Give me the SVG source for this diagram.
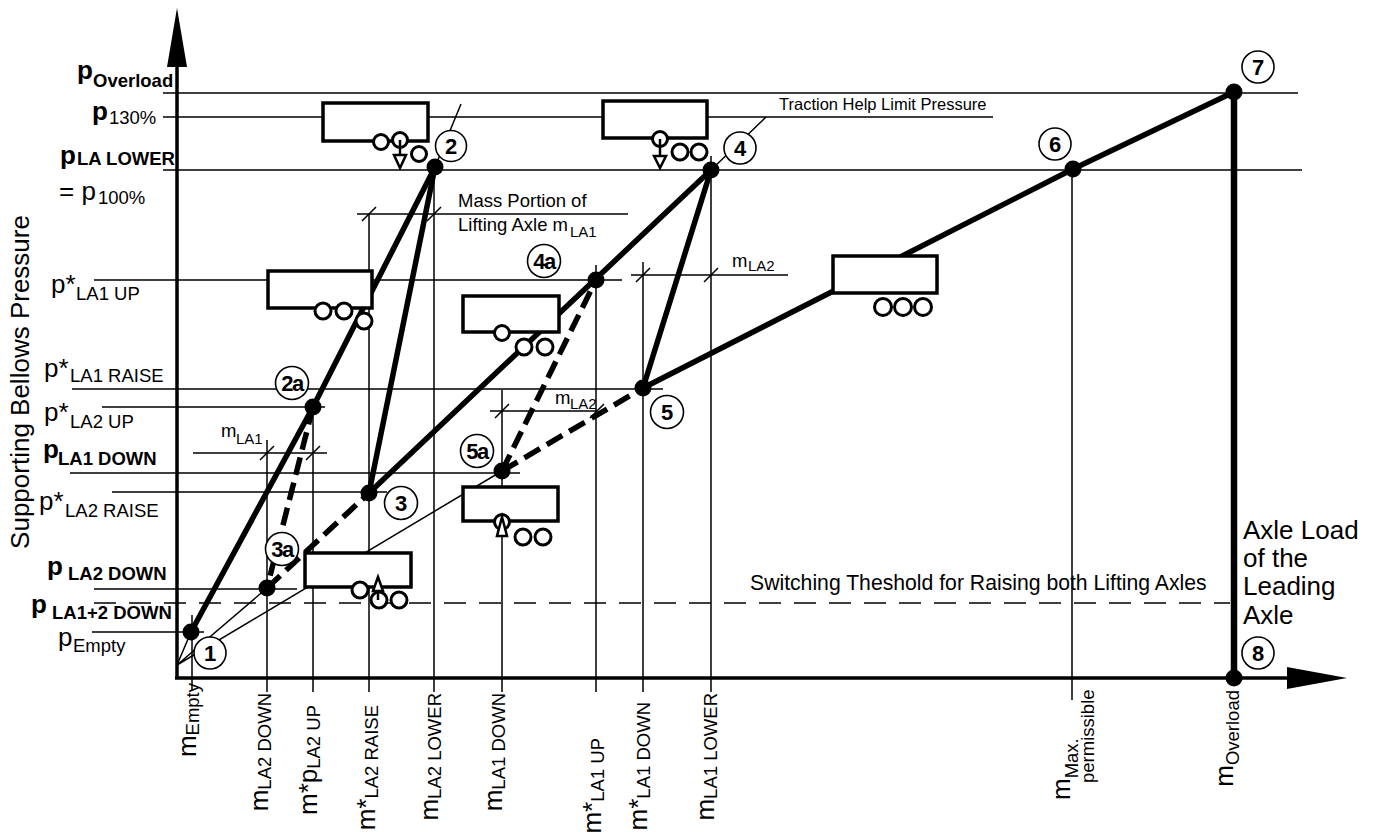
<svg xmlns="http://www.w3.org/2000/svg" width="1373" height="832" viewBox="0 0 1373 832">
<defs>
<style>
text{font-family:"Liberation Sans",Arial,Helvetica,sans-serif;fill:#000}
.t{stroke:#000;stroke-width:1.5;fill:none}
.th{stroke:#000;stroke-width:1.5;fill:none;stroke-dasharray:22 13}
.k{stroke:#000;stroke-width:5.5;fill:none;stroke-linecap:round;stroke-linejoin:round}
.d{stroke-dasharray:18 8;stroke-linecap:butt}
.ax{stroke:#000;stroke-width:3.5;fill:none}
.box{fill:#fff;stroke:#000;stroke-width:3.5}
.wh{fill:#fff;stroke:#000;stroke-width:3}
.ar{fill:#fff;stroke:#000;stroke-width:2.5;stroke-linejoin:miter}
.dot{fill:#000}
.nc{fill:#fff;stroke:#000;stroke-width:1.6}
.nt{font-weight:bold;font-size:22px;text-anchor:middle}
.na{font-weight:bold;font-size:22px;text-anchor:middle;letter-spacing:-1.5px}
.big{font-size:26px}
.sub{font-size:18.5px}
.b{font-weight:bold}
.m{font-size:18.5px}
.s{font-size:15px}
</style>
</defs>
<rect width="1373" height="832" fill="#fff"/>

<g id="connectors">
  <!-- reference grid lines -->
  <path class="t" d="M163 93H1298 M163 117H993 M163 170H1302 M357 214H628 M94 280H622 M631 275H788 M72 389H663 M102 407H325 M490 411H597 M193 453H327 M70 473H520 M112 492H387 M94 589H297 M92 632H204"/>
  <path class="th" d="M94 603H1230"/>
  <path class="t" d="M192 615V690 M267 440V692 M313 407V692 M369 214V692 M434 167V692 M502 390V692 M596 265V692 M643 262V692 M711 156V692 M1072 169V700"/>
  <!-- dimension ticks -->
  <path class="t" d="M362 221l14-14 M427 221l14-14 M636 282l14-14 M704 282l14-14 M495 418l14-14 M590 418l14-14 M260 460l14-14 M306 460l14-14"/>
  <!-- leaders -->
  <path class="t" d="M435 167L461 104 M711 170L766 117"/>
  <!-- thin rays from origin -->
  <path class="t" d="M177 665L191 632 M177 665L267 588 M177 665L502 471"/>
  <!-- axes -->
  <path class="ax" d="M177 678V60 M175 678H1292"/>
  <polygon points="177,8 167,67 187,67" fill="#000"/>
  <polygon points="1347,678 1287,667 1287,689" fill="#000"/>
  <!-- characteristic curves -->
  <polyline class="k" points="191,632 313,407 435,167"/>
  <path class="k" d="M369 493L435 167 M369 493L711 170 M643 388L711 170"/>
  <polyline class="k" points="643,388 1073,169 1234,92"/>
  <path class="k" style="stroke-width:6.5;stroke-linecap:butt" d="M1234 92V678"/>
  <path class="k d" d="M313 407L267 588 M267 588L369 493 M502 471L596 280 M502 471L643 388"/>
</g>

<g id="trailer-T1">
  <rect class="box" x="323" y="103" width="105" height="38"/>
  <circle class="wh" cx="381" cy="142" r="7.5"/>
  <circle class="wh" cx="400" cy="140" r="7.5"/>
  <circle class="wh" cx="419" cy="154" r="7.5"/>
  <path class="t" style="stroke-width:2.5" d="M400 140V156"/>
  <polygon class="ar" points="394,155 406,155 400,168"/>
</g>
<g id="trailer-T2">
  <rect class="box" x="603" y="101" width="104" height="37"/>
  <circle class="wh" cx="660" cy="139" r="7.5"/>
  <circle class="wh" cx="680" cy="152" r="8"/>
  <circle class="wh" cx="699" cy="152" r="8"/>
  <path class="t" style="stroke-width:2.5" d="M660 139V156"/>
  <polygon class="ar" points="654,156 666,156 660,168"/>
</g>
<g id="trailer-T3">
  <rect class="box" x="268" y="271" width="104" height="37"/>
  <circle class="wh" cx="323" cy="311" r="8"/>
  <circle class="wh" cx="344" cy="311" r="8"/>
  <circle class="wh" cx="364" cy="321" r="8"/>
</g>
<g id="trailer-T4">
  <rect class="box" x="463" y="296" width="96" height="36"/>
  <circle class="wh" cx="502" cy="333" r="7.5"/>
  <circle class="wh" cx="524" cy="347" r="8"/>
  <circle class="wh" cx="545" cy="347" r="8"/>
</g>
<g id="trailer-T5">
  <rect class="box" x="463" y="487" width="95" height="34"/>
  <circle class="wh" cx="502" cy="522" r="7.5"/>
  <circle class="wh" cx="523" cy="537" r="8"/>
  <circle class="wh" cx="543" cy="537" r="8"/>
  <polygon class="ar" points="502,517 497,536 507,536"/>
</g>
<g id="trailer-T6">
  <rect class="box" x="305" y="553" width="106" height="34"/>
  <circle class="wh" cx="360" cy="590" r="8"/>
  <circle class="wh" cx="379" cy="600" r="8"/>
  <circle class="wh" cx="399" cy="600" r="8"/>
  <path class="t" style="stroke-width:2.5" d="M378 590V600"/>
  <polygon class="ar" points="378,577 373,591 383,591"/>
</g>
<g id="trailer-T7">
  <rect class="box" x="833" y="256" width="104" height="37"/>
  <circle class="wh" cx="883" cy="307" r="8.5"/>
  <circle class="wh" cx="903" cy="307" r="8.5"/>
  <circle class="wh" cx="923" cy="307" r="8.5"/>
</g>

<g id="points">
  <circle class="dot" cx="191" cy="632" r="8.5"/>
  <circle class="dot" cx="435" cy="167" r="8.5"/>
  <circle class="dot" cx="313" cy="407" r="8.5"/>
  <circle class="dot" cx="369" cy="493" r="8.5"/>
  <circle class="dot" cx="267" cy="588" r="8.5"/>
  <circle class="dot" cx="711" cy="170" r="8.5"/>
  <circle class="dot" cx="596" cy="280" r="8.5"/>
  <circle class="dot" cx="643" cy="388" r="8.5"/>
  <circle class="dot" cx="502" cy="471" r="8.5"/>
  <circle class="dot" cx="1073" cy="169" r="8.5"/>
  <circle class="dot" cx="1234" cy="92" r="8.5"/>
  <circle class="dot" cx="1234" cy="678" r="8.5"/>
</g>

<g id="node-1"><circle class="nc" cx="210" cy="653" r="16"/><text class="nt" x="210" y="661">1</text></g>
<g id="node-2"><circle class="nc" cx="451" cy="146" r="15.5"/><text class="nt" x="451" y="154">2</text></g>
<g id="node-2a"><circle class="nc" cx="292" cy="383" r="16.5"/><text class="na" x="292" y="391">2a</text></g>
<g id="node-3"><circle class="nc" cx="401" cy="503" r="16.5"/><text class="nt" x="401" y="511">3</text></g>
<g id="node-3a"><circle class="nc" cx="282" cy="549" r="16.5"/><text class="na" x="282" y="557">3a</text></g>
<g id="node-4"><circle class="nc" cx="740" cy="148" r="16"/><text class="nt" x="740" y="156">4</text></g>
<g id="node-4a"><circle class="nc" cx="544" cy="261" r="16.5"/><text class="na" x="544" y="269">4a</text></g>
<g id="node-5"><circle class="nc" cx="667" cy="412" r="16.5"/><text class="nt" x="667" y="420">5</text></g>
<g id="node-5a"><circle class="nc" cx="477" cy="451" r="16.5"/><text class="na" x="477" y="459">5a</text></g>
<g id="node-6"><circle class="nc" cx="1055" cy="144" r="16"/><text class="nt" x="1055" y="152">6</text></g>
<g id="node-7"><circle class="nc" cx="1258" cy="67" r="16"/><text class="nt" x="1258" y="75">7</text></g>
<g id="node-8"><circle class="nc" cx="1258" cy="653" r="16"/><text class="nt" x="1258" y="661">8</text></g>

<g id="y-labels">
  <text class="b"><tspan class="big" x="77" y="79">p</tspan><tspan class="sub" x="93" y="87">Overload</tspan></text>
  <text><tspan class="big b" x="92" y="120">p</tspan><tspan class="sub" x="109" y="124">130%</tspan></text>
  <text class="b"><tspan class="big" x="60" y="164">p</tspan><tspan class="sub" x="77" y="165">LA LOWER</tspan></text>
  <text><tspan class="big" x="59" y="200">= p</tspan><tspan class="sub" x="98" y="204">100%</tspan></text>
  <text><tspan class="big" x="51" y="293">p*</tspan><tspan class="sub" x="76" y="300">LA1 UP</tspan></text>
  <text><tspan class="big" x="44" y="377">p*</tspan><tspan class="sub" x="70" y="382">LA1 RAISE</tspan></text>
  <text><tspan class="big" x="44" y="421">p*</tspan><tspan class="sub" x="70" y="428">LA2 UP</tspan></text>
  <text class="b"><tspan class="big" x="43" y="458">p</tspan><tspan class="sub" x="58" y="465">LA1 DOWN</tspan></text>
  <text><tspan class="big" x="39" y="510">p*</tspan><tspan class="sub" x="65" y="517">LA2 RAISE</tspan></text>
  <text class="b"><tspan class="big" x="47" y="575">p</tspan><tspan class="sub" x="68" y="580">LA2 DOWN</tspan></text>
  <text class="b"><tspan class="big" x="31" y="613">p</tspan><tspan class="sub" x="52" y="619">LA1+2 DOWN</tspan></text>
  <text><tspan class="big" x="58" y="646">p</tspan><tspan class="sub" x="73" y="652">Empty</tspan></text>
  <text class="big" transform="translate(29,382) rotate(-90)" text-anchor="middle">Supporting Bellows Pressure</text>
</g>

<g id="x-labels">
  <text transform="translate(196,683) rotate(-90)" text-anchor="end"><tspan class="big">m</tspan><tspan class="sub" dy="3">Empty</tspan></text>
  <text transform="translate(268,693) rotate(-90)" text-anchor="end"><tspan class="big">m</tspan><tspan class="sub" dy="3">LA2 DOWN</tspan></text>
  <text transform="translate(317,705) rotate(-90)" text-anchor="end"><tspan class="big">m*p</tspan><tspan class="sub" dy="3">LA2 UP</tspan></text>
  <text transform="translate(375,705) rotate(-90)" text-anchor="end"><tspan class="big">m*</tspan><tspan class="sub" dy="3">LA2 RAISE</tspan></text>
  <text transform="translate(438,693) rotate(-90)" text-anchor="end"><tspan class="big">m</tspan><tspan class="sub" dy="3">LA2 LOWER</tspan></text>
  <text transform="translate(502,693) rotate(-90)" text-anchor="end"><tspan class="big">m</tspan><tspan class="sub" dy="3">LA1 DOWN</tspan></text>
  <text transform="translate(601,738) rotate(-90)" text-anchor="end"><tspan class="big">m*</tspan><tspan class="sub" dy="3">LA1 UP</tspan></text>
  <text transform="translate(647,702) rotate(-90)" text-anchor="end"><tspan class="big">m*</tspan><tspan class="sub" dy="3">LA1 DOWN</tspan></text>
  <text transform="translate(714,693) rotate(-90)" text-anchor="end"><tspan class="big">m</tspan><tspan class="sub" dy="3">LA1 LOWER</tspan></text>
  <text transform="translate(1070,800) rotate(-90)"><tspan class="big">m</tspan><tspan class="sub" dy="8">Max.</tspan><tspan class="sub" x="17" dy="16">permissible</tspan></text>
  <text transform="translate(1233,690) rotate(-90)" text-anchor="end"><tspan class="big">m</tspan><tspan class="sub" dy="6">Overload</tspan></text>
</g>

<g id="annotations">
  <text style="font-size:16.5px" x="779" y="110">Traction Help Limit Pressure</text>
  <text class="m" x="458" y="207">Mass Portion of</text>
  <text><tspan class="m" x="458" y="231">Lifting Axle m</tspan><tspan class="s" x="570" y="237">LA1</tspan></text>
  <text><tspan class="m" x="732" y="267">m</tspan><tspan class="s" x="748" y="271">LA2</tspan></text>
  <text><tspan class="m" x="555" y="404">m</tspan><tspan class="s" x="570" y="409">LA2</tspan></text>
  <text><tspan class="m" x="221" y="437">m</tspan><tspan class="s" x="236" y="444">LA1</tspan></text>
  <text style="font-size:21.2px" x="750" y="590">Switching Theshold for Raising both Lifting Axles</text>
  <text class="big"><tspan x="1243" y="539">Axle Load</tspan><tspan x="1243" y="567">of the</tspan><tspan x="1243" y="595">Leading</tspan><tspan x="1243" y="624">Axle</tspan></text>
</g>
</svg>
